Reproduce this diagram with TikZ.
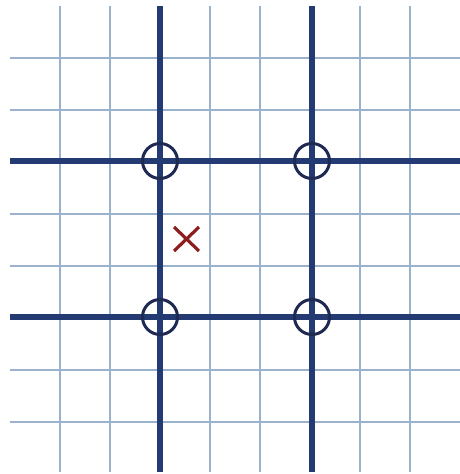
\documentclass[tikz,border=0pt]{standalone}
\begin{document}
\begin{tikzpicture}[x=1pt,y=-1pt,
  thin grid/.style={draw=gridblue,line width=1.5pt},
  main line/.style={draw=navy,line width=6pt},
  ring/.style={circle,draw=ringnavy,line width=3pt,minimum size=35pt,inner sep=0pt},
  cross/.style={draw=crossred,line width=3.2pt}]
\definecolor{gridblue}{HTML}{9AB2CC}
\definecolor{navy}{HTML}{243A72}
\definecolor{ringnavy}{HTML}{1E2A52}
\definecolor{crossred}{HTML}{8E1E1E}
\useasboundingbox[fill=white] (0,0) rectangle (460,474);
% thin grid
\foreach \i in {1,...,8} {
  \draw[thin grid] (10+50*\i,6) -- (10+50*\i,472);
  \draw[thin grid] (10,6+52*\i) -- (460,6+52*\i);
}
% main lines
\coordinate (vt1) at (160,6);  \coordinate (vb1) at (160,472);
\coordinate (vt2) at (312,6);  \coordinate (vb2) at (312,472);
\coordinate (hl1) at (10,161); \coordinate (hr1) at (460,161);
\coordinate (hl2) at (10,317); \coordinate (hr2) at (460,317);
\draw[main line] (vt1) -- (vb1);
\draw[main line] (vt2) -- (vb2);
\draw[main line] (hl1) -- (hr1);
\draw[main line] (hl2) -- (hr2);
% rings
\node[ring] (a) at (160,161) {};
\node[ring] (b) at (312,161) {};
\node[ring] (c) at (160,317) {};
\node[ring] (d) at (312,317) {};
% cross
\coordinate (x1) at (174,227); \coordinate (x2) at (199,251);
\coordinate (x3) at (174,251); \coordinate (x4) at (199,227);
\draw[cross] (x1) -- (x2);
\draw[cross] (x3) -- (x4);
\end{tikzpicture}
\end{document}
